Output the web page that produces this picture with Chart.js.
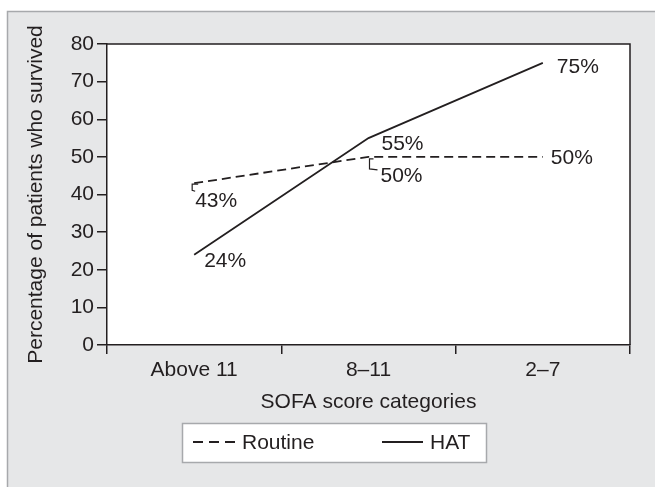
<!DOCTYPE html>
<html>
<head>
<meta charset="utf-8">
<script src="https://cdn.jsdelivr.net/npm/chart.js@4"></script>
<style>
  html, body { margin: 0; padding: 0; background: #fff; }
  canvas { display: block; }
</style>
</head>
<body>
<canvas id="chart" width="655" height="487"></canvas>
<script>
// values
const categories = ["Above 11", "8\u201311", "2\u20137"];
const routineValues = [43, 50, 50];
const hatValues = [24, 55, 75];
const seriesNames = ["Routine", "HAT"];
const yMin = 0;
const yMax = 80;
const yStep = 10;

const ink = "#231f20";
const fontFamily = "'Liberation Sans', Arial, sans-serif";
const fontSize = 21;

// where each value label sits relative to its point (dx, dy)
const labelOffsets = [
    [[1, 18], [12, 19], [8, 1]],
    [[10, 7], [13, 6], [14, 4]]
];

const panelPlugin = {
    id: "panel",
    beforeDraw(chart) {
        const { ctx, chartArea: a, width, height } = chart;
        ctx.save();
        ctx.fillStyle = "#fff";
        ctx.fillRect(0, 0, width, height);
        ctx.fillStyle = "#e6e7e8";
        ctx.fillRect(7, 11, width - 7, height - 11);
        ctx.strokeStyle = "#a7a9ac";
        ctx.lineWidth = 1.5;
        ctx.beginPath();
        ctx.moveTo(7.5, height);
        ctx.lineTo(7.5, 11.5);
        ctx.lineTo(width, 11.5);
        ctx.stroke();
        ctx.fillStyle = "#fff";
        ctx.fillRect(a.left, a.top, a.right - a.left, a.bottom - a.top);
        ctx.restore();
    },
    afterDraw(chart) {
        const { ctx, chartArea: a } = chart;
        ctx.save();
        ctx.strokeStyle = ink;
        ctx.lineWidth = 1.5;
        ctx.beginPath();
        ctx.moveTo(a.left, a.top);
        ctx.lineTo(a.right, a.top);
        ctx.lineTo(a.right, a.bottom);
        ctx.stroke();

        // legend box
        ctx.fillStyle = "#fff";
        ctx.fillRect(182, 423, 304, 39);
        ctx.strokeStyle = "#a7a9ac";
        ctx.strokeRect(182.5, 423.5, 304, 39);

        ctx.font = fontSize + "px " + fontFamily;
        ctx.textBaseline = "middle";
        ctx.textAlign = "left";
        ctx.fillStyle = ink;
        const items = [
            { x: 193, w: 42, text: seriesNames[0], dash: [10, 6] },
            { x: 382, w: 41, text: seriesNames[1], dash: [] }
        ];
        items.forEach(it => {
            ctx.strokeStyle = ink;
            ctx.lineWidth = 1.8;
            ctx.setLineDash(it.dash);
            ctx.beginPath();
            ctx.moveTo(it.x, 442);
            ctx.lineTo(it.x + it.w, 442);
            ctx.stroke();
            ctx.setLineDash([]);
            ctx.fillText(it.text, it.x + it.w + 7, 443);
        });
        ctx.restore();
    }
};

const valueLabelPlugin = {
    id: "valueLabels",
    afterDatasetsDraw(chart) {
        const ctx = chart.ctx;
        ctx.save();
        ctx.font = fontSize + "px " + fontFamily;
        ctx.fillStyle = ink;
        ctx.textAlign = "left";
        ctx.textBaseline = "middle";
        chart.data.datasets.forEach((ds, i) => {
            const meta = chart.getDatasetMeta(i);
            meta.data.forEach((pt, j) => {
                const off = labelOffsets[i][j];
                ctx.fillText(ds.data[j] + "%", pt.x + off[0], pt.y + off[1]);
            });
        });

        // small leader brackets on the routine labels
        const r = chart.getDatasetMeta(0).data;
        ctx.strokeStyle = ink;
        ctx.lineWidth = 1.2;
        ctx.beginPath();
        ctx.moveTo(r[0].x + 4, r[0].y + 1);
        ctx.lineTo(r[0].x - 2, r[0].y + 1);
        ctx.lineTo(r[0].x - 2, r[0].y + 7);
        ctx.lineTo(r[0].x + 1, r[0].y + 8);
        ctx.moveTo(r[1].x + 5, r[1].y + 2);
        ctx.lineTo(r[1].x + 1, r[1].y + 2);
        ctx.lineTo(r[1].x + 1, r[1].y + 12);
        ctx.lineTo(r[1].x + 9, r[1].y + 13);
        ctx.stroke();
        ctx.restore();
    }
};

const ctx = document.getElementById("chart").getContext("2d");

new Chart(ctx, {
    type: "line",
    data: {
        labels: categories,
        datasets: [
            {
                label: seriesNames[0],
                data: routineValues,
                borderColor: ink,
                borderWidth: 1.8,
                borderDash: [9, 5],
                pointRadius: 0,
                tension: 0,
                fill: false
            },
            {
                label: seriesNames[1],
                data: hatValues,
                borderColor: ink,
                borderWidth: 1.8,
                pointRadius: 0,
                tension: 0,
                fill: false
            }
        ]
    },
    options: {
        responsive: false,
        animation: false,
        layout: { padding: { top: 44, right: 25, left: 0, bottom: 72 } },
        plugins: {
            legend: { display: false },
            tooltip: { enabled: false }
        },
        scales: {
            x: {
                offset: true,
                grid: {
                    offset: true,
                    drawOnChartArea: false,
                    drawTicks: true,
                    tickLength: 9,
                    tickColor: ink,
                    lineWidth: 1.5
                },
                border: { display: true, color: ink, width: 1.5 },
                ticks: {
                    color: ink,
                    padding: 4,
                    maxRotation: 0,
                    font: { family: fontFamily, size: fontSize }
                },
                title: {
                    display: true,
                    text: "SOFA score categories",
                    color: ink,
                    padding: { top: 0, bottom: 0 },
                    font: { family: fontFamily, size: fontSize }
                },
                afterFit(scale) { scale.height = 70; }
            },
            y: {
                min: yMin,
                max: yMax,
                grid: {
                    drawOnChartArea: false,
                    drawTicks: true,
                    tickLength: 10,
                    tickColor: ink,
                    lineWidth: 1.5
                },
                border: { display: true, color: ink, width: 1.5 },
                ticks: {
                    stepSize: yStep,
                    color: ink,
                    padding: 3,
                    font: { family: fontFamily, size: fontSize }
                },
                title: {
                    display: true,
                    text: "Percentage of patients who survived",
                    color: ink,
                    padding: { top: 24, bottom: 0 },
                    font: { family: fontFamily, size: fontSize }
                },
                afterFit(scale) { scale.width = 107; }
            }
        }
    },
    plugins: [panelPlugin, valueLabelPlugin]
});
</script>
</body>
</html>
